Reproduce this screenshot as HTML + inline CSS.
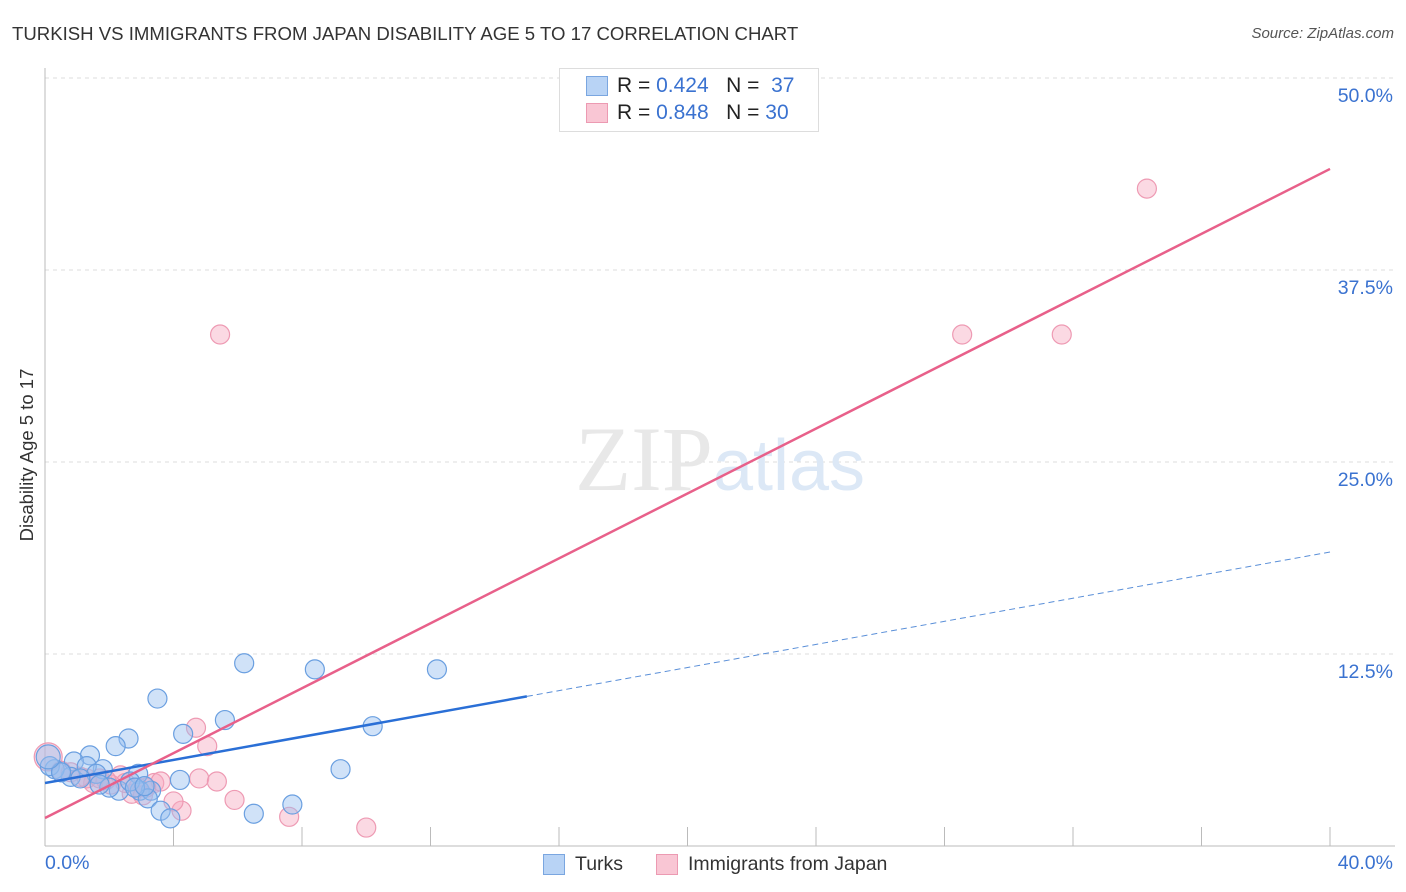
<!DOCTYPE html>
<html><head><meta charset="utf-8"><style>
body{margin:0;background:#fff;font-family:"Liberation Sans",sans-serif;}
#wrap{position:relative;width:1406px;height:892px;}
.t{position:absolute;white-space:nowrap;}
</style></head><body>
<div id="wrap">
<div class="t" style="left:12px;top:23px;font-size:18.6px;color:#333;">TURKISH VS IMMIGRANTS FROM JAPAN DISABILITY AGE 5 TO 17 CORRELATION CHART</div>
<div class="t" style="right:12px;top:25px;font-size:15px;color:#555;font-style:italic;">Source: ZipAtlas.com</div>
<svg id="svg" width="1406" height="892" style="position:absolute;left:0;top:0"></svg>
<div class="t" style="left:27px;top:455px;font-size:18.5px;color:#333;transform:translate(-50%,-50%) rotate(-90deg);">Disability Age 5 to 17</div>
<div style="position:absolute;left:559px;top:68px;width:258px;height:62px;border:1px solid #ddd;background:#fff;"></div>
<div style="position:absolute;left:586px;top:76px;width:20px;height:18px;background:#b8d3f5;border:1px solid #7aa6e0;"></div>
<div style="position:absolute;left:586px;top:103px;width:20px;height:18px;background:#f9c6d4;border:1px solid #ec9ab2;"></div>
<div class="t" style="left:617px;top:74px;font-size:21px;color:#222;">R = <span style="color:#3a72d0">0.424</span>&nbsp;&nbsp;&nbsp;N = &nbsp;<span style="color:#3a72d0">37</span></div>
<div class="t" style="left:617px;top:101px;font-size:21px;color:#222;">R = <span style="color:#3a72d0">0.848</span>&nbsp;&nbsp;&nbsp;N = <span style="color:#3a72d0">30</span></div>
<div style="position:absolute;left:543px;top:854px;width:20px;height:19px;background:#b8d3f5;border:1px solid #7aa6e0;"></div>
<div class="t" style="left:575px;top:853px;font-size:19.5px;color:#333;">Turks</div>
<div style="position:absolute;left:656px;top:854px;width:20px;height:19px;background:#f9c6d4;border:1px solid #ec9ab2;"></div>
<div class="t" style="left:688px;top:853px;font-size:19.5px;color:#333;">Immigrants from Japan</div>
<div class="t" style="left:45px;top:852px;font-size:19.5px;color:#3a72d0;">0.0%</div>
<div class="t" style="right:13px;top:852px;font-size:19.5px;color:#3a72d0;">40.0%</div>
</div>
<script>
const yTicks=[12.5,25,37.5,50];
const yTickLabels=["12.5%","25.0%","37.5%","50.0%"];
const xTicks=[0,4,8,12,16,20,24,28,32,36,40];
const turksX=[6.2,8.4,12.2,3.5,5.6,4.3,10.2,2.6,2.2,1.4,0.9,1.8,1.3,2.9,1.6,0.8,0.3,0.15,0.5,2.3,2.95,3.3,3.2,4.2,9.2,3.6,3.9,6.5,7.7,2.0,2.65,2.8,1.1,1.7,3.1,0.5,0.1];
const turksY=[11.9,11.5,11.5,9.6,8.2,7.3,7.8,7.0,6.5,5.9,5.5,5.0,5.2,4.7,4.7,4.5,5.0,5.2,4.8,3.6,3.6,3.6,3.1,4.3,5.0,2.3,1.8,2.1,2.7,3.8,4.2,3.8,4.4,4.0,3.9,4.8,5.8];
const japanX=[34.3,5.45,28.55,31.65,4.7,5.05,4.8,5.35,3.4,3.6,5.9,4.25,4.0,7.6,10.0,2.35,1.5,2.05,2.7,3.15,1.3,0.8,0.5,0.1,1.9,2.5,2.9,1.7,1.1,3.05];
const japanY=[42.8,33.3,33.3,33.3,7.7,6.5,4.4,4.2,4.1,4.2,3.0,2.3,2.9,1.9,1.2,4.6,4.1,4.0,3.4,3.8,4.4,4.8,4.9,5.8,4.3,4.1,3.8,4.4,4.5,3.3];
const turksTrend=[4.1,19.14];
const japanTrend=[1.82,44.08];
const X=v=>45+v*32.125, Y=v=>846-v*15.36;
const s=document.getElementById('svg'),NS='http://www.w3.org/2000/svg';
function mk(t,a){const e=document.createElementNS(NS,t);for(const k in a)e.setAttribute(k,a[k]);s.appendChild(e);return e;}
yTicks.forEach((v,i)=>{
 const g=mk('line',{x1:45,x2:1395,y1:Y(v),y2:Y(v),stroke:'#ddd','stroke-dasharray':'4,4'});
 
 
 const t=mk('text',{x:1393,y:Y(v)+24,'text-anchor':'end','font-size':19.5,fill:'#3a72d0','font-family':'Liberation Sans'});
 t.textContent=yTickLabels[i];
 
 
});
const ax=mk('line',{x1:45,x2:45,y1:68,y2:846,stroke:'#bbb'});


const bx=mk('line',{x1:45,x2:1395,y1:846,y2:846,stroke:'#bbb'});


xTicks.forEach(v=>{if(v===0)return;const l=mk('line',{x1:X(v),x2:X(v),y1:827,y2:846,stroke:'#bbb'});
 
 });
const wm=mk('text',{x:720,y:490,'text-anchor':'middle','font-size':92,'font-family':'Liberation Serif',fill:'#e8e8e8'});
wm.innerHTML='ZIP<tspan fill="#dce8f6" font-family="Liberation Sans" font-size="72">atlas</tspan>';


japanX.forEach((x,i)=>{const c=mk('circle',{cx:X(x),cy:Y(japanY[i]),r:i===23?14:9.5,fill:'rgba(246,170,192,0.45)',stroke:'#ee9ab3','stroke-width':1.2});
 
 });
turksX.forEach((x,i)=>{const c=mk('circle',{cx:X(x),cy:Y(turksY[i]),r:i===36?12:9.5,fill:'rgba(150,190,240,0.45)',stroke:'#6a9fe0','stroke-width':1.2});
 
 });
const bt=v=>turksTrend[0]+(turksTrend[1]-turksTrend[0])*v/40;
const l1=mk('line',{x1:X(0),y1:Y(bt(0)),x2:X(15),y2:Y(bt(15)),stroke:'#2a6fd6','stroke-width':2.5});


const l2=mk('line',{x1:X(15),y1:Y(bt(15)),x2:X(40),y2:Y(bt(40)),stroke:'#5a8fd8','stroke-width':1,'stroke-dasharray':'6,4'});


const l3=mk('line',{x1:X(0),y1:Y(japanTrend[0]),x2:X(40),y2:Y(japanTrend[1]),stroke:'#e8608a','stroke-width':2.5});


</script>
</body></html>
